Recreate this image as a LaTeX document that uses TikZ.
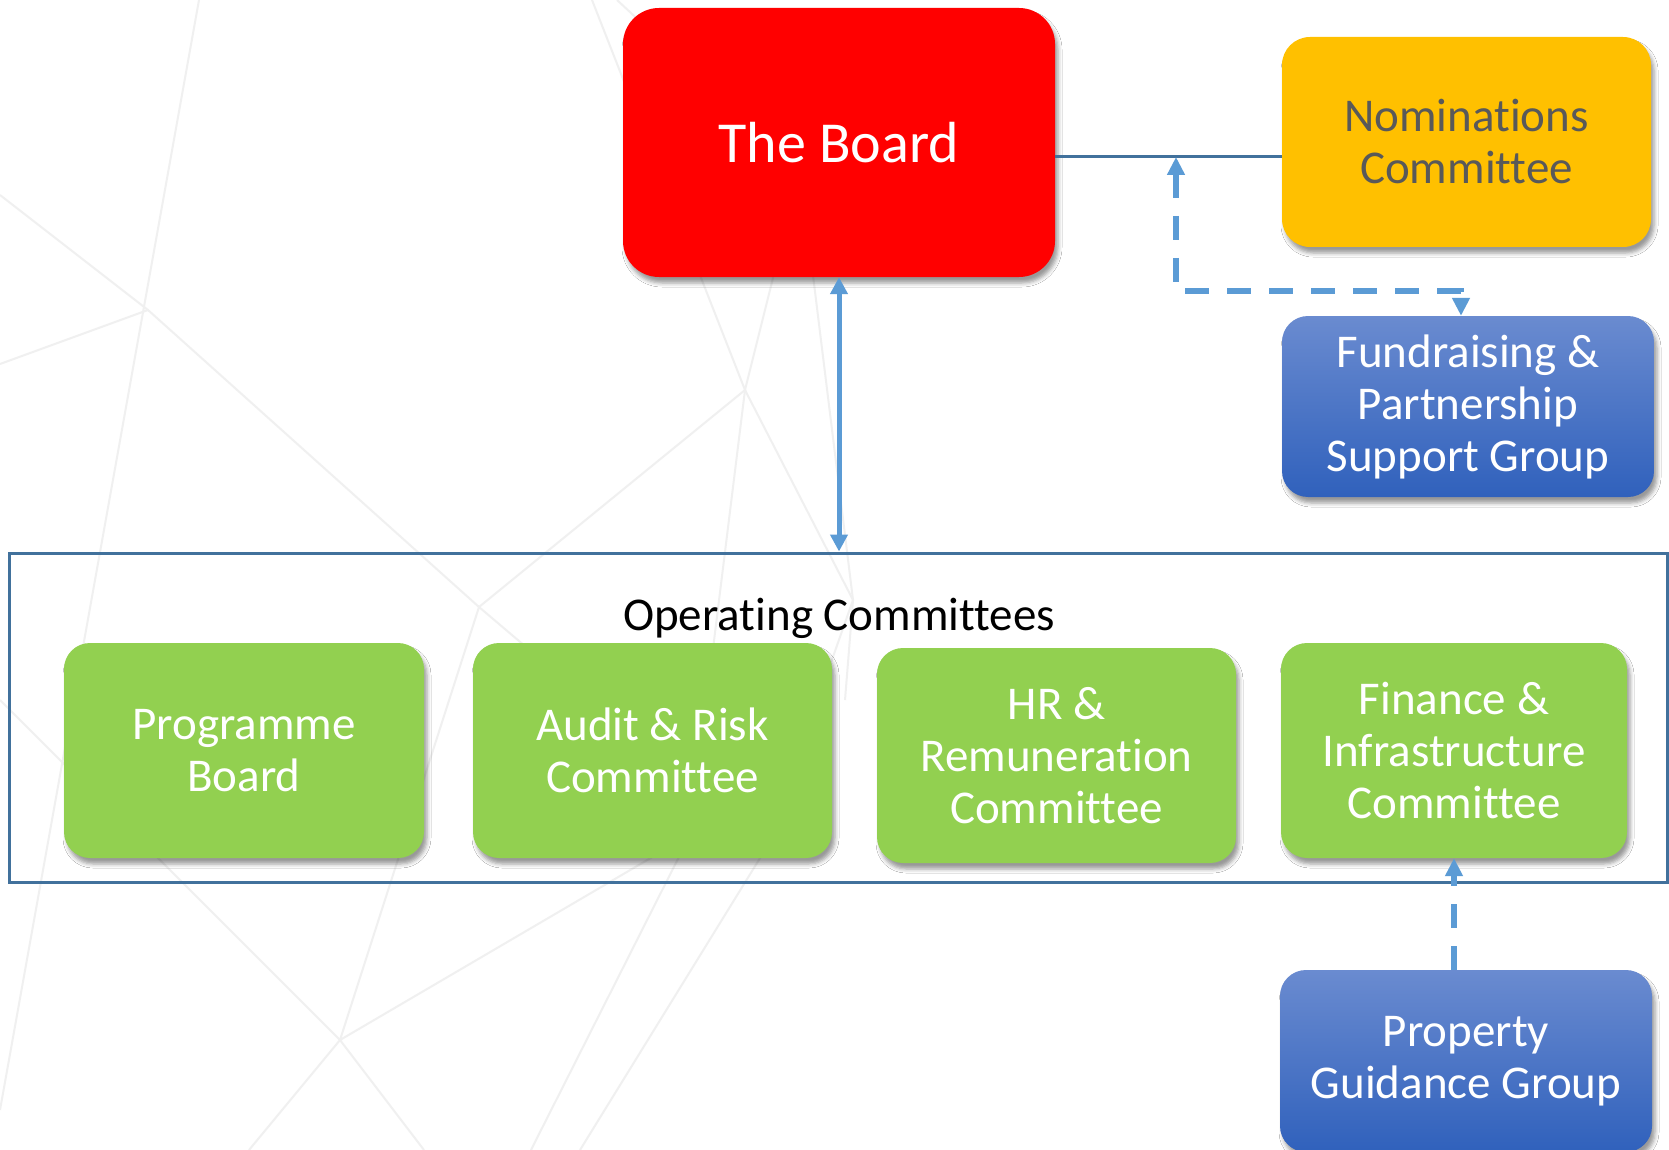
\documentclass[tikz,border=0pt]{standalone}
\usepackage{fontspec}
\setmainfont{Carlito}[Ligatures={NoCommon}]
\usetikzlibrary{arrows.meta,shadows.blur,calc}
\definecolor{boardred}{HTML}{FF0000}
\definecolor{nomorange}{HTML}{FFC000}
\definecolor{nomtext}{HTML}{595959}
\definecolor{opgreen}{HTML}{92D050}
\definecolor{grptop}{HTML}{6A8BD0}
\definecolor{grpbot}{HTML}{3061BC}
\definecolor{connblue}{HTML}{5B9BD5}
\definecolor{frameblue}{HTML}{41719C}
\definecolor{bgline}{HTML}{F0F0F0}
\tikzset{
  boxbase/.style={rectangle, align=center, inner sep=0pt,
    blur shadow={shadow xshift=3pt, shadow yshift=-6pt, shadow blur radius=4pt, shadow opacity=40},
    font=\fontsize{47}{52}\selectfont},
  boardbox/.style={boxbase, rounded corners=36pt, fill=boardred, text=white, font=\fontsize{58}{64}\selectfont},
  nombox/.style={boxbase, rounded corners=28pt, fill=nomorange, text=nomtext},
  grpbox/.style={boxbase, rounded corners=26pt, top color=grptop, bottom color=grpbot, text=white},
  greenbox/.style={boxbase, rounded corners=26pt, fill=opgreen, text=white, minimum height=215pt},
  framebox/.style={rectangle, draw=frameblue, line width=3pt, inner sep=0pt},
  bgl/.style={draw=bgline, line width=2pt},
  solidconn/.style={draw=frameblue, line width=3pt},
  arrowconn/.style={draw=connblue, line width=5pt, {Triangle[length=17pt,width=17pt]}-{Triangle[length=17pt,width=17pt]}},
  dashconn/.style={draw=connblue, line width=5.5pt, dash pattern=on 24pt off 18pt},
  dtip/.tip={Triangle[length=18pt,width=17pt]}
}
\begin{document}
\begin{tikzpicture}[x=1pt,y=-1pt]
\useasboundingbox (0,0) rectangle (1669,1150);
\clip (0,0) rectangle (1669,1150);
\fill[white] (0,0) rectangle (1669,1150);
% faint background lines
\coordinate (bA) at (148,310);
\coordinate (bB) at (745,390);
\coordinate (bC) at (479,607);
\coordinate (bD) at (340,1040);
\coordinate (bE) at (765,850);
\coordinate (bF) at (690,835);
\coordinate (bG) at (800,170);
\coordinate (bH) at (853,600);
\draw[bgl] (199,0) -- (0,1110);
\draw[bgl] (0,195) -- (bA) -- (bC) -- (bE);
\draw[bgl] (0,364) -- (bA);
\draw[bgl] (592,0) -- (bB) -- (bC);
\draw[bgl] (bB) -- (bF) -- (531,1150);
\draw[bgl] (bF) -- (bD);
\draw[bgl] (bB) -- (bH) -- (bE) -- (580,1150);
\draw[bgl] (617,0) -- (bG) -- (bB);
\draw[bgl] (bG) -- (bH) -- (845,700);
\draw[bgl] (0,700) -- (bD) -- (424,1150);
\draw[bgl] (bC) -- (bD) -- (249,1150);
% frame
\node[framebox, minimum width=1658pt, minimum height=329pt] (ops) at (838,717.5) {};
\node[anchor=base, font=\fontsize{47}{52}\selectfont, text=black] (opslabel) at (839,630) {Operating Committees};
% nodes
\coordinate (j) at (1176,157);
\node[boardbox, minimum width=432pt, minimum height=269pt] (board) at (839,142.5) {The Board};
\node[nombox, minimum width=369pt, minimum height=210pt] (nom) at (1466.5,142) {Nominations\\Committee};
\node[grpbox, minimum width=372pt, minimum height=181pt] (fund) at (1468,406.5) {Fundraising \&\\Partnership\\Support Group};
\node[greenbox, minimum width=360pt] (prog) at (244,750.5) {Programme\\Board};
\node[greenbox, minimum width=359pt] (audit) at (652.5,750.5) {Audit \& Risk\\Committee};
\node[greenbox, minimum width=359pt] (hr) at (1056.5,755.5) {HR \&\\Remuneration\\Committee};
\node[greenbox, minimum width=346pt] (fin) at (1454,750.5) {Finance \&\\Infrastructure\\Committee};
\node[grpbox, minimum width=372pt, minimum height=182pt] (prop) at (1466,1061) {Property\\Guidance Group};
% connectors
\draw[solidconn] (board.east |- j) -- (nom.west |- j);
\draw[dashconn, dtip-dtip] (j) |- ($(fund.north)+(-7,-25)$) -- ($(fund.north)+(-7,0)$);
\draw[arrowconn] (board.south) -- (board.south |- ops.north);
\draw[dashconn, -dtip] (prop.north -| fin.south) -- (fin.south);
\end{tikzpicture}
\end{document}
